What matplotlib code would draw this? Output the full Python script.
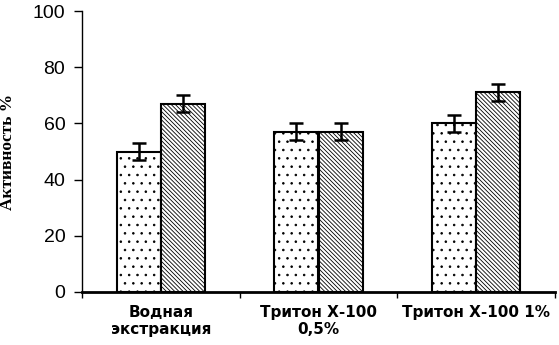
import numpy as np
import matplotlib.pyplot as plt

categories = ["Водная\nэкстракция", "Тритон Х-100\n0,5%", "Тритон Х-100 1%"]
series_a = [50, 57, 60]
series_b = [67, 57, 71]
err_a = [3, 3, 3]
err_b = [3, 3, 3]

plt.rcParams['hatch.linewidth'] = 0.6

fig = plt.figure(figsize=(5.59, 3.45), dpi=100)
ax = fig.add_axes([82/559, 53/345, 473/559, 281/345])

x = np.arange(len(categories))
w = 0.28
ax.bar(x - w/2, series_a, w, color="white", edgecolor="black", linewidth=1.5, hatch="..")
ax.bar(x + w/2, series_b, w, color="white", edgecolor="black", linewidth=1.5, hatch="\\\\\\\\\\\\\\\\")
ax.errorbar(x - w/2, series_a, yerr=err_a, fmt="none", ecolor="black", elinewidth=1.8, capsize=5, capthick=1.8)
ax.errorbar(x + w/2, series_b, yerr=err_b, fmt="none", ecolor="black", elinewidth=1.8, capsize=5, capthick=1.8)

ax.set_xlim(-0.5, 2.5)
ax.set_ylim(0, 100)
ax.set_yticks([0, 20, 40, 60, 80, 100])
ax.set_yticklabels(["0", "20", "40", "60", "80", "100"], fontsize=14, family="Liberation Sans")
ax.tick_params(axis="y", direction="out", length=6, width=1, pad=6)

ax.set_xticks([-0.5, 0.5, 1.5, 2.5])
ax.set_xticklabels([])
ax.tick_params(axis="x", direction="out", length=4, width=1)
for xi, lab in zip(x, categories):
    ax.text(xi, -4.5, lab, ha="center", va="top", fontsize=11, fontweight="bold",
            family="DejaVu Sans", transform=ax.transData, linespacing=1.2)

ax.set_ylabel("Активность %", family="Liberation Serif", fontweight="bold", fontsize=12.5, labelpad=12)

ax.spines["top"].set_visible(False)
ax.spines["right"].set_visible(False)
ax.spines["left"].set_linewidth(1)
ax.spines["bottom"].set_linewidth(2)

plt.savefig("out.png", dpi=100)
